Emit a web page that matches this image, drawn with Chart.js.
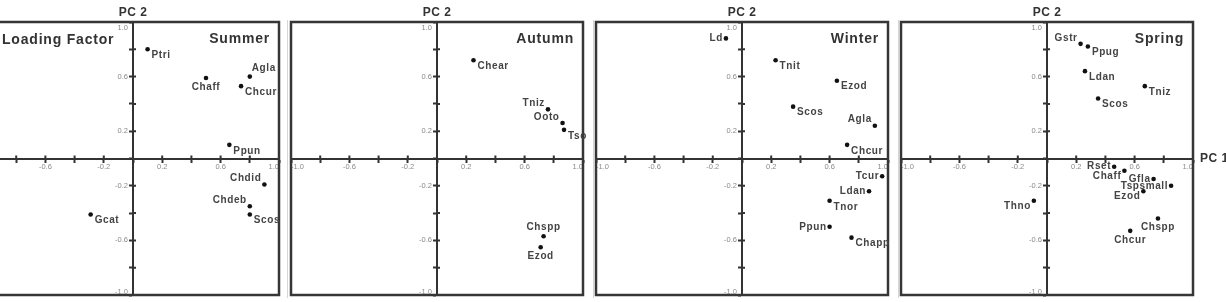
<!DOCTYPE html>
<html>
<head>
<meta charset="utf-8">
<script src="https://cdn.jsdelivr.net/npm/chart.js@4.4.0/dist/chart.umd.min.js"></script>
<style>
  html, body { margin: 0; padding: 0; background: #fff; }
  body { width: 1226px; height: 302px; position: relative; overflow: hidden; font-family: Arial, "Liberation Sans", sans-serif; }
  .panel { position: absolute; top: 0; width: 312px; height: 302px; }
  .sep { position: absolute; top: 20px; height: 278px; width: 1px; background: #d6d6d6; }
  #pc1 { position: absolute; left: 1200px; top: 151px; font-weight: bold; font-size: 12px; color: #333; letter-spacing: 0.5px; white-space: nowrap; }
</style>
</head>
<body>
<div class="sep" style="left:287px"></div>
<div class="sep" style="left:593px"></div>
<div class="sep" style="left:898px"></div>
<div class="panel" style="left:-23px"><canvas id="summer" width="312" height="302"></canvas></div>
<div class="panel" style="left:281px"><canvas id="autumn" width="312" height="302"></canvas></div>
<div class="panel" style="left:586px"><canvas id="winter" width="312" height="302"></canvas></div>
<div class="panel" style="left:891px"><canvas id="spring" width="312" height="302"></canvas></div>
<div id="pc1">PC 1</div>
<script>
// tick labels shown on both axes
const axisLabels = [-1.0, -0.6, -0.2, 0.2, 0.6, 1.0];

// Summer
const summerNames = ['Ptri', 'Chaff', 'Agla', 'Chcur', 'Ppun', 'Chdid', 'Chdeb', 'Scos', 'Gcat'];
const summerPC1 = [0.10, 0.50, 0.80, 0.74, 0.66, 0.90, 0.80, 0.80, -0.29];
const summerPC2 = [0.80, 0.59, 0.60, 0.53, 0.10, -0.19, -0.35, -0.41, -0.41];

// Autumn
const autumnNames = ['Chear', 'Tniz', 'Ooto', 'Tso', 'Chspp', 'Ezod'];
const autumnPC1 = [0.25, 0.76, 0.86, 0.87, 0.73, 0.71];
const autumnPC2 = [0.72, 0.36, 0.26, 0.21, -0.57, -0.65];

// Winter
const winterNames = ['Ld', 'Tnit', 'Ezod', 'Scos', 'Agla', 'Chcur', 'Tcur', 'Ldan', 'Tnor', 'Ppun', 'Chapp'];
const winterPC1 = [-0.11, 0.23, 0.65, 0.35, 0.91, 0.72, 0.96, 0.87, 0.60, 0.60, 0.75];
const winterPC2 = [0.88, 0.72, 0.57, 0.38, 0.24, 0.10, -0.13, -0.24, -0.31, -0.50, -0.58];

// Spring
const springNames = ['Gstr', 'Ppug', 'Ldan', 'Tniz', 'Scos', 'Rset', 'Chaff', 'Gfla', 'Tspsmall', 'Ezod', 'Thno', 'Chspp', 'Chcur'];
const springPC1 = [0.23, 0.28, 0.26, 0.67, 0.35, 0.46, 0.53, 0.73, 0.85, 0.66, -0.09, 0.76, 0.57];
const springPC2 = [0.84, 0.82, 0.64, 0.53, 0.44, -0.06, -0.09, -0.15, -0.20, -0.24, -0.31, -0.44, -0.53];

// where each name sits next to its dot
const labelPlace = {
  summer: ['br', 'b', 'tr', 'br', 'br', 'tl', 'tl', 'br', 'br'],
  autumn: ['br', 'tl', 'tl', 'br', 't', 'b'],
  winter: ['l', 'br', 'br', 'br', 'tl', 'br', 'l', 'l', 'br', 'l', 'br'],
  spring: ['tl', 'br', 'br', 'br', 'br', 'l', 'bl', 'l', 'l', 'bl', 'bl', 'b', 'b'],
};

const offsets = {
  br: { dx: 4, dy: 6, align: 'left' },
  tr: { dx: 2, dy: -8, align: 'left' },
  tl: { dx: -3, dy: -6, align: 'right' },
  l:  { dx: -3, dy: 0, align: 'right' },
  bl: { dx: -3, dy: 5, align: 'right' },
  b:  { dx: 0, dy: 9, align: 'center' },
  t:  { dx: 0, dy: -9, align: 'center' },
};

const FONT = 'Arial, "Liberation Sans", sans-serif';
const TICK_COLOR = '#8a8a8a';
const TICK_SIZE = 7.5;

function tickLabel(v) {
  const r = Math.round(v * 10) / 10;
  return axisLabels.includes(r) ? r.toFixed(1) : '';
}

const panelDecor = {
  id: 'panelDecor',
  afterDraw(chart, args, opts) {
    const { ctx, chartArea: a, scales: { x, y } } = chart;
    const x0 = x.getPixelForValue(0);
    const y0 = y.getPixelForValue(0);
    ctx.save();

    // frame
    ctx.strokeStyle = '#363636';
    ctx.lineWidth = 2.5;
    ctx.strokeRect(a.left, a.top, a.right - a.left, a.bottom - a.top);

    // other half of each tick mark
    ctx.strokeStyle = '#333';
    ctx.lineWidth = 2;
    ctx.beginPath();
    x.ticks.forEach(t => {
      if (Math.abs(t.value) < 1e-6 || Math.abs(t.value) > 0.99) return;
      const px = x.getPixelForValue(t.value);
      ctx.moveTo(px, y0);
      ctx.lineTo(px, y0 - 3);
    });
    y.ticks.forEach(t => {
      if (Math.abs(t.value) < 1e-6 || Math.abs(t.value) > 0.99) return;
      const py = y.getPixelForValue(t.value);
      ctx.moveTo(x0, py);
      ctx.lineTo(x0 + 3, py);
    });
    ctx.stroke();

    // PC 2 tick labels, left of the vertical axis, end ones kept inside the frame
    ctx.font = TICK_SIZE + 'px ' + FONT;
    ctx.fillStyle = TICK_COLOR;
    ctx.textAlign = 'right';
    ctx.textBaseline = 'middle';
    y.ticks.forEach(t => {
      const txt = tickLabel(t.value);
      if (!txt) return;
      let py = y.getPixelForValue(t.value);
      if (t.value > 0.99) py += 6;
      if (t.value < -0.99) py -= 3;
      ctx.fillText(txt, x0 - 5, py);
    });

    // point names
    const meta = chart.getDatasetMeta(0);
    ctx.font = 'bold 10px ' + FONT;
    ctx.fillStyle = '#444';
    ctx.letterSpacing = '0.6px';
    meta.data.forEach((pt, i) => {
      const o = offsets[opts.place[i]];
      ctx.textAlign = o.align;
      ctx.fillText(opts.names[i], pt.x + o.dx, pt.y + o.dy);
    });

    // axis title and season
    ctx.fillStyle = '#333';
    ctx.font = 'bold 12px ' + FONT;
    ctx.letterSpacing = '0.5px';
    ctx.textAlign = 'center';
    ctx.fillText('PC 2', x0, 13);

    ctx.font = 'bold 14px ' + FONT;
    ctx.letterSpacing = '0.8px';
    ctx.textAlign = 'right';
    ctx.fillText(opts.season, a.right - 9, 39);
    if (opts.corner) {
      ctx.textAlign = 'left';
      ctx.fillText(opts.corner, a.left + 15, 40);
    }
    ctx.restore();
  }
};

function axis(pos, showLabels) {
  return {
    type: 'linear',
    min: -1,
    max: 1,
    position: pos,
    ticks: {
      display: showLabels,
      stepSize: 0.2,
      autoSkip: false,
      maxRotation: 0,
      align: 'inner',
      padding: 1,
      color: TICK_COLOR,
      font: { size: TICK_SIZE, family: FONT },
      callback: tickLabel,
    },
    grid: { drawOnChartArea: false, drawTicks: true, tickLength: 3, tickWidth: 2, tickColor: '#333' },
    border: { color: '#333', width: 2 },
  };
}

function makePanel(id, season, names, pc1, pc2, place, corner) {
  return new Chart(document.getElementById(id), {
    type: 'scatter',
    plugins: [panelDecor],
    data: {
      datasets: [{
        data: pc1.map((v, i) => ({ x: v, y: pc2[i] })),
        pointRadius: 2.3,
        pointBackgroundColor: '#111',
        pointBorderWidth: 0,
        clip: false,
      }]
    },
    options: {
      responsive: false,
      animation: false,
      layout: { padding: { left: 10, right: 10, top: 22, bottom: 7 } },
      scales: { x: axis({ y: 0 }, true), y: axis({ x: 0 }, false) },
      plugins: {
        legend: { display: false },
        tooltip: { enabled: false },
        panelDecor: { season, names, place, corner },
      }
    }
  });
}

makePanel('summer', 'Summer', summerNames, summerPC1, summerPC2, labelPlace.summer, 'Loading Factor');
makePanel('autumn', 'Autumn', autumnNames, autumnPC1, autumnPC2, labelPlace.autumn);
makePanel('winter', 'Winter', winterNames, winterPC1, winterPC2, labelPlace.winter);
makePanel('spring', 'Spring', springNames, springPC1, springPC2, labelPlace.spring);
</script>
</body>
</html>
